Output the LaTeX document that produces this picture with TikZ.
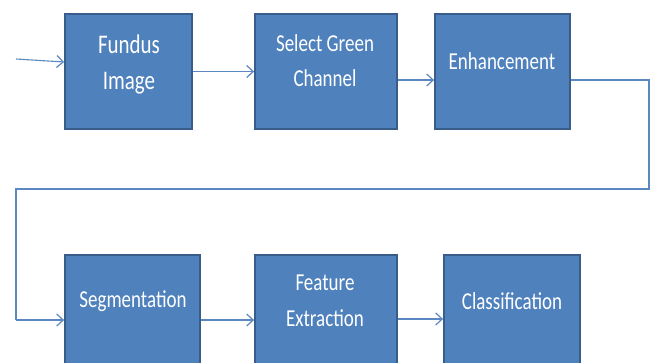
\documentclass[tikz,border=0pt]{standalone}
\usepackage{fontspec}
\setmainfont{Carlito}
\usetikzlibrary{arrows.meta,calc}
\definecolor{boxfill}{HTML}{4F81BD}
\definecolor{boxline}{HTML}{385D8A}
\definecolor{conn}{HTML}{5B87C2}
\tikzset{
  blk/.style={draw=boxline, line width=1.8pt, fill=boxfill, rectangle, inner sep=0pt},
  lbl/.style={text=white, inner sep=0pt, font=\fontsize{19}{19}\selectfont},
  lblb/.style={text=white, inner sep=0pt, font=\fontsize{21}{21}\selectfont},
  conline/.style={draw=conn, line width=1.1pt},
  arr/.style={conline, -{Straight Barb[length=6.5pt,width=12pt,line width=1.2pt]}}
}
\newcommand{\vs}[1]{\scalebox{1}[1.28]{#1}}
\begin{document}
\begin{tikzpicture}[x=1pt,y=-1pt]
\useasboundingbox (0,0) rectangle (656,362);
\clip (0,0) rectangle (656,362);
% boxes
\node[blk, minimum width=127pt, minimum height=115pt] (fundus) at (128.5,71.5) {};
\node[blk, minimum width=142pt, minimum height=115pt] (select) at (326,71.5) {};
\node[blk, minimum width=135pt, minimum height=115pt] (enh) at (502.5,71.5) {};
\node[blk, minimum width=135pt, minimum height=125pt] (seg) at (132.5,317.5) {};
\node[blk, minimum width=142pt, minimum height=125pt] (feat) at (326,317.5) {};
\node[blk, minimum width=136pt, minimum height=125pt] (cls) at (512,317.5) {};
% labels
\node[lblb] (t1) at (129,44) {\vs{Fundus}};
\node[lblb] (t2) at (129,83) {\vs{Image}};
\node[lbl] (t3) at (325,43) {\vs{Select Green}};
\node[lbl] (t4) at (325,78) {\vs{Channel}};
\node[lbl] (t5) at (502,61) {\vs{Enhancement}};
\node[lbl] (t6) at (133,301) {\vs{Segmentation}};
\node[lbl] (t7) at (325,283) {\vs{Feature}};
\node[lbl] (t8) at (325,318) {\vs{Extraction}};
\node[lbl] (t9) at (512,301) {\vs{Classification}};
% connectors
\coordinate (in) at (16,59);
\coordinate (c1) at (649,80);
\coordinate (c2) at (649,189);
\coordinate (c3) at (16,189);
\coordinate (c4) at (16,320);
\draw[arr] (in) -- ([yshift=9.5pt]fundus.west);
\draw[arr] (fundus.east) -- (select.west);
\draw[arr] ([yshift=-8.5pt]select.east) -- ([yshift=-8.5pt]enh.west);
\draw[conline] ([yshift=-8.5pt]enh.east) -- (c1) -- (c2) -- (c3) -- (c4);
\draw[arr] (c4) -- ([yshift=-2.5pt]seg.west);
\draw[arr] ([yshift=-2.5pt]seg.east) -- ([yshift=-2.5pt]feat.west);
\draw[arr] ([yshift=-1.5pt]feat.east) -- ([yshift=-1.5pt]cls.west);
\end{tikzpicture}
\end{document}
